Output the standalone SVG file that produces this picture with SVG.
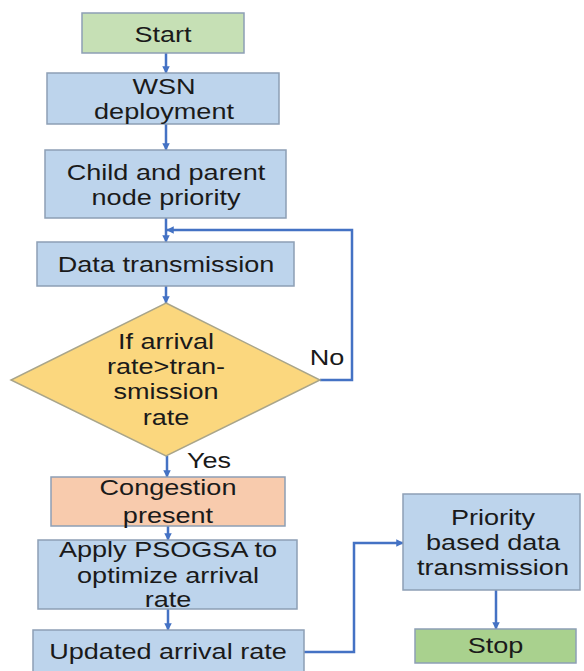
<svg xmlns="http://www.w3.org/2000/svg" width="584" height="671" viewBox="0 0 584 671">
<defs>
<style>
.box{fill:#bdd4ec;stroke:#8d9fb5;stroke-width:1.5}
.start{fill:#c6e0b5;stroke:#8d9fb5;stroke-width:1.5}
.stop{fill:#a9d18e;stroke:#8d9fb5;stroke-width:1.5}
.cong{fill:#f8cbad;stroke:#8d9fb5;stroke-width:1.5}
.dia{fill:#fbd77e;stroke:#a9a58a;stroke-width:1.5}
text{font-family:"Liberation Sans",Arial,sans-serif;font-size:22px;fill:#1a1a1a;text-anchor:middle}
.conn{fill:none;stroke:#4472c4;stroke-width:2.5;marker-end:url(#ah)}
</style>
<marker id="ah" viewBox="0 0 10 10" refX="9" refY="5" markerWidth="3" markerHeight="3" orient="auto" markerUnits="strokeWidth">
<path d="M0,0 L10,5 L0,10 z" fill="#4472c4"/>
</marker>
</defs>
<rect width="584" height="671" fill="#ffffff"/>
<g id="connectors">
<path class="conn" d="M166,53 V73"/>
<path class="conn" d="M166,124 V150"/>
<path class="conn" d="M166,218 V242"/>
<path class="conn" d="M166,286 V303"/>
<path class="conn" d="M320,380 H352 V230 H167"/>
<path class="conn" d="M167,456 V477"/>
<path class="conn" d="M168,526 V540"/>
<path class="conn" d="M168,609 V630"/>
<path class="conn" d="M304,652 H354 V543 H403"/>
<path class="conn" d="M496,590 V629"/>
</g>
<g id="start">
<rect class="start" x="82" y="13" width="162" height="40"/>
<text transform="translate(163,41.5) scale(1.23,1)">Start</text>
</g>
<g id="wsn">
<rect class="box" x="47" y="73" width="232" height="51"/>
<text transform="translate(164,93.5) scale(1.23,1)">WSN</text>
<text transform="translate(164,118.5) scale(1.23,1)">deployment</text>
</g>
<g id="priority-nodes">
<rect class="box" x="45" y="150" width="241" height="68"/>
<text transform="translate(166,180) scale(1.23,1)">Child and parent</text>
<text transform="translate(166,204.5) scale(1.23,1)">node priority</text>
</g>
<g id="data-tx">
<rect class="box" x="37" y="242" width="257" height="44"/>
<text transform="translate(166,271.5) scale(1.23,1)">Data transmission</text>
</g>
<g id="decision">
<polygon class="dia" points="166,303 320,380 166,456 11,380"/>
<text transform="translate(166,349) scale(1.23,1)">If arrival</text>
<text transform="translate(166,374) scale(1.23,1)">rate&gt;tran-</text>
<text transform="translate(166,399) scale(1.23,1)">smission</text>
<text transform="translate(166,424.5) scale(1.23,1)">rate</text>
</g>
<g id="label-no">
<text transform="translate(327,365) scale(1.23,1)">No</text>
</g>
<g id="label-yes">
<text transform="translate(209,468) scale(1.23,1)">Yes</text>
</g>
<g id="congestion">
<rect class="cong" x="51" y="477" width="234" height="49"/>
<text transform="translate(168,495) scale(1.23,1)">Congestion</text>
<text transform="translate(168,522.5) scale(1.23,1)">present</text>
</g>
<g id="psogsa">
<rect class="box" x="38" y="540" width="259" height="69"/>
<text transform="translate(168,556.5) scale(1.23,1)">Apply PSOGSA to</text>
<text transform="translate(168,582.5) scale(1.23,1)">optimize arrival</text>
<text transform="translate(168,606.5) scale(1.23,1)">rate</text>
</g>
<g id="updated">
<rect class="box" x="33" y="630" width="271" height="50"/>
<text transform="translate(168,659) scale(1.23,1)">Updated arrival rate</text>
</g>
<g id="priority-tx">
<rect class="box" x="403" y="494" width="177" height="96"/>
<text transform="translate(493,525) scale(1.23,1)">Priority</text>
<text transform="translate(493,550) scale(1.23,1)">based data</text>
<text transform="translate(493,575) scale(1.23,1)">transmission</text>
</g>
<g id="stop">
<rect class="stop" x="415" y="629" width="161" height="34"/>
<text transform="translate(495.5,653) scale(1.23,1)">Stop</text>
</g>
</svg>
